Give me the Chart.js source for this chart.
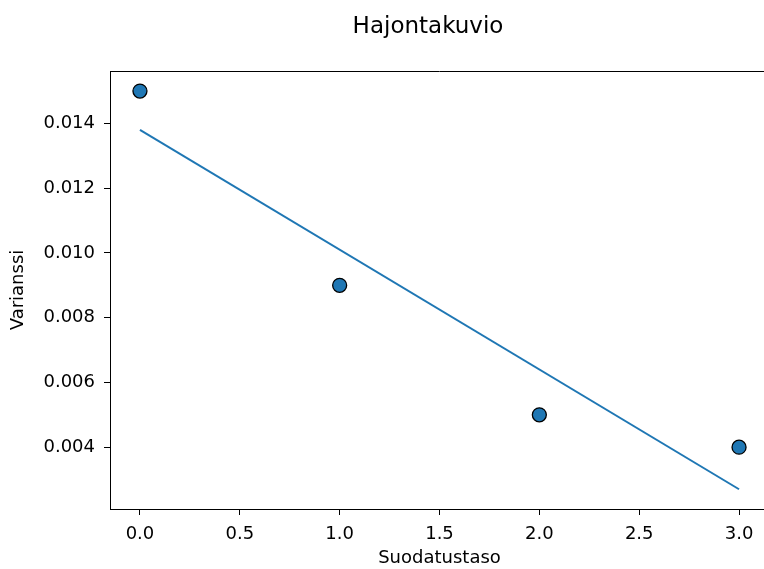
<!DOCTYPE html>
<html>
<head>
<meta charset="utf-8">
<script src="https://cdn.jsdelivr.net/npm/chart.js@4.4.0/dist/chart.umd.min.js"></script>
<style>
  html, body { margin: 0; padding: 0; background: #fff; overflow: hidden; }
  canvas { display: block; }
</style>
</head>
<body>
<canvas id="scatterChart" width="780" height="569"></canvas>
<script>
// Measurements per filtering level
const levels = [0, 1, 2, 3];
const variance = [0.015, 0.009, 0.005, 0.004];

// Fitted trend line end points
const fitX = [0, 3];
const fitY = [0.0138, 0.0027];

// Tick labels
const xTicks = [0, 0.5, 1.0, 1.5, 2.0, 2.5, 3.0];
const yTicks = [0.004, 0.006, 0.008, 0.010, 0.012, 0.014];

const FONT = 'DejaVu Sans';
const BLUE = '#1f77b4';

// Figure title and top spine
const framePlugin = {
    id: 'frame',
    afterDraw(chart) {
        const ctx = chart.ctx;
        const area = chart.chartArea;
        ctx.save();
        ctx.strokeStyle = '#000';
        ctx.lineWidth = 1;
        ctx.beginPath();
        ctx.moveTo(area.left, area.top + 0.5);
        ctx.lineTo(area.right, area.top + 0.5);
        ctx.stroke();
        ctx.fillStyle = '#000';
        ctx.font = '23px "' + FONT + '"';
        ctx.textAlign = 'center';
        ctx.textBaseline = 'alphabetic';
        ctx.fillText('Hajontakuvio', 428, 33);
        ctx.restore();
    }
};

const ctx = document.getElementById('scatterChart');
new Chart(ctx.getContext('2d'), {
    type: 'scatter',
    data: {
        datasets: [{
            type: 'line',
            data: fitX.map((x, i) => ({ x: x, y: fitY[i] })),
            borderColor: BLUE,
            borderWidth: 2,
            pointRadius: 0,
            fill: false,
            order: 2
        }, {
            data: levels.map((x, i) => ({ x: x, y: variance[i] })),
            backgroundColor: BLUE,
            borderColor: '#000',
            borderWidth: 1.3,
            pointRadius: 7,
            order: 1
        }]
    },
    options: {
        responsive: false,
        animation: false,
        layout: { padding: { top: 71, right: 11, left: 0, bottom: 0 } },
        plugins: {
            legend: { display: false },
            tooltip: { enabled: false }
        },
        scales: {
            x: {
                type: 'linear',
                min: -0.15,
                max: 3.15,
                afterBuildTicks: scale => { scale.ticks = xTicks.map(v => ({ value: v })); },
                afterFit: scale => { scale.height = 60; },
                grid: { drawOnChartArea: false, color: '#000', tickLength: 6 },
                border: { color: '#000', width: 1 },
                ticks: {
                    color: '#000',
                    padding: 9,
                    maxRotation: 0,
                    font: { family: FONT, size: 18 },
                    callback: v => v.toFixed(1)
                },
                title: {
                    display: true,
                    text: 'Suodatustaso',
                    color: '#000',
                    font: { family: FONT, size: 18 },
                    padding: { top: 0, bottom: 0 }
                }
            },
            y: {
                min: 0.00209,
                max: 0.01562,
                afterBuildTicks: scale => { scale.ticks = yTicks.map(v => ({ value: v })); },
                afterFit: scale => { scale.width = 110; },
                grid: { drawOnChartArea: false, color: '#000', tickLength: 6 },
                border: { color: '#000', width: 1 },
                ticks: {
                    color: '#000',
                    padding: 9,
                    font: { family: FONT, size: 18 },
                    callback: v => v.toFixed(3)
                },
                title: {
                    display: true,
                    text: 'Varianssi',
                    color: '#000',
                    font: { family: FONT, size: 18 },
                    padding: { top: 8, bottom: 0 }
                }
            }
        }
    },
    plugins: [framePlugin]
});
</script>
</body>
</html>
